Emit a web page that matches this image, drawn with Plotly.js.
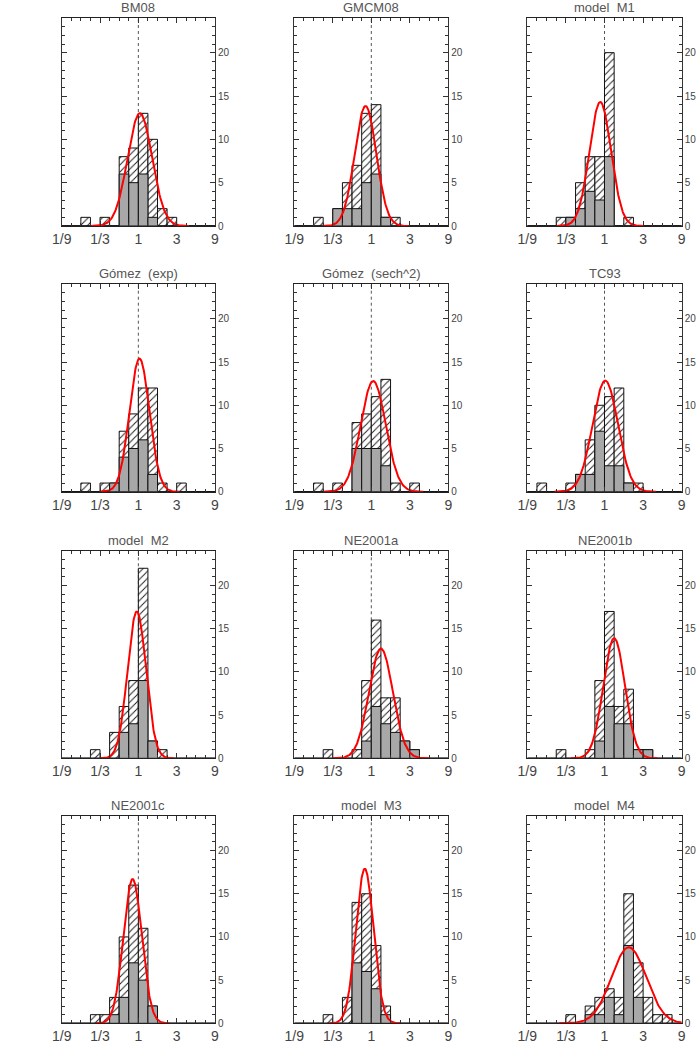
<!DOCTYPE html>
<html>
<head>
<meta charset="utf-8">
<script src="https://cdn.plot.ly/plotly-3.0.1.min.js"></script>
<style>html,body{margin:0;padding:0;background:#fff;}#plot{width:700px;height:1063px;}</style>
</head>
<body>
<div id="plot"></div>
<script>
// bin centres in log3 units (bins 0.25 wide from -2 to 2)
const binCenters = [-1.875,-1.625,-1.375,-1.125,-0.875,-0.625,-0.375,-0.125,0.125,0.375,0.625,0.875,1.125,1.375,1.625,1.875];
const tickVals = [-2,-1,0,1,2];
const tickLabels = ["1/9","1/3","1","3","9"];

const panelTitles = ["BM08","GMCM08","model  M1","Gómez  (exp)","Gómez  (sech^2)","TC93","model  M2","NE2001a","NE2001b","NE2001c","model  M3","model  M4"];

// hatched (all) and grey (subset) counts per panel
const allBM08     = [0,0,1,0,1,0,8,9,13,10,2,1,0,0,0,0];
const subBM08     = [0,0,0,0,0,0,6,5,6,1,0,0,0,0,0,0];
const allGMCM08   = [0,0,1,0,2,5,7,13,14,1,1,0,0,0,0,0];
const subGMCM08   = [0,0,0,0,2,2,2,5,6,1,0,0,0,0,0,0];
const allM1       = [0,0,0,1,1,5,8,8,20,0,1,0,0,0,0,0];
const subM1       = [0,0,0,0,1,2,4,3,8,0,0,0,0,0,0,0];
const allGomezExp = [0,0,1,0,1,1,7,9,12,12,1,0,1,0,0,0];
const subGomezExp = [0,0,0,0,0,1,4,5,6,2,0,0,0,0,0,0];
const allGomezSech= [0,0,1,0,1,0,8,9,11,13,1,0,1,0,0,0];
const subGomezSech= [0,0,0,0,0,0,5,5,5,3,0,0,0,0,0,0];
const allTC93     = [0,1,0,0,1,2,6,10,11,12,1,1,0,0,0,0];
const subTC93     = [0,0,0,0,0,2,2,7,3,3,1,0,0,0,0,0];
const allM2       = [0,0,0,1,0,3,6,9,22,2,1,0,0,0,0,0];
const subM2       = [0,0,0,0,0,0,3,4,9,2,0,0,0,0,0,0];
const allNE2001a  = [0,0,0,1,0,0,1,9,16,7,7,2,1,0,0,0];
const subNE2001a  = [0,0,0,0,0,0,0,2,6,4,3,2,1,0,0,0];
const allNE2001b  = [0,0,0,1,0,0,1,9,17,6,8,1,1,0,0,0];
const subNE2001b  = [0,0,0,0,0,0,0,2,6,4,4,1,1,0,0,0];
const allNE2001c  = [0,0,0,1,1,3,10,16,11,2,0,0,0,0,0,0];
const subNE2001c  = [0,0,0,0,0,1,3,7,5,2,0,0,0,0,0,0];
const allM3       = [0,0,0,1,0,3,14,15,9,2,0,0,0,0,0,0];
const subM3       = [0,0,0,0,0,0,7,6,4,1,0,0,0,0,0,0];
const allM4       = [0,0,0,0,1,0,2,3,4,3,15,7,3,1,1,0];
const subM4       = [0,0,0,0,0,0,1,1,3,1,9,3,0,0,0,0];

// gaussian fit parameters (peak, centre in log3, width in log3)
const fitPeak   = [13.0,13.85,14.3,15.4,12.8,12.85,17.0,12.7,13.9,16.7,17.9,8.8];
const fitCenter = [0.04,-0.15,-0.11,0.03,0.05,0.02,-0.04,0.25,0.25,-0.15,-0.17,0.63];
const fitWidth  = [0.32,0.28,0.28,0.26,0.325,0.33,0.24,0.31,0.28,0.24,0.23,0.45];

const allCounts = [allBM08,allGMCM08,allM1,allGomezExp,allGomezSech,allTC93,allM2,allNE2001a,allNE2001b,allNE2001c,allM3,allM4];
const subCounts = [subBM08,subGMCM08,subM1,subGomezExp,subGomezSech,subTC93,subM2,subNE2001a,subNE2001b,subNE2001c,subM3,subM4];

const W = 700, H = 1063;
const colPx = [[61.7,215],[294.3,448.3],[527.3,681.7]];
const rowPx = [[18,226],[284.3,491.7],[551,758.3],[816,1023.3]];

const data = [];
const layout = {
  width: W, height: H,
  margin: {l:0,r:0,t:0,b:0},
  paper_bgcolor: '#fff', plot_bgcolor: '#fff',
  showlegend: false,
  barmode: 'overlay',
  font: {family: 'Liberation Sans, Arial, sans-serif', color: '#333'},
  annotations: [], shapes: []
};

for (let k = 0; k < 12; k++) {
  const r = Math.floor(k/3), c = k%3;
  const n = k+1;
  const xa = 'x'+(n===1?'':n), ya = 'y'+(n===1?'':n);
  const xk = 'xaxis'+(n===1?'':n), yk = 'yaxis'+(n===1?'':n);
  layout[xk] = {
    domain: [colPx[c][0]/W, colPx[c][1]/W],
    anchor: ya, range: [-2,2], fixedrange: true,
    tickmode: 'array', tickvals: tickVals, ticktext: tickLabels,
    ticks: 'inside', ticklen: 5, tickcolor: '#333', tickwidth: 1,
    minor: {tickmode: 'linear', tick0: -2, dtick: 0.25, ticks: 'inside', ticklen: 3, tickcolor: '#333'},
    showline: true, linecolor: '#222', linewidth: 1, mirror: 'ticks',
    showgrid: false, zeroline: false,
    tickfont: {size: 14, color: '#444'}
  };
  layout[yk] = {
    domain: [1-rowPx[r][1]/H, 1-rowPx[r][0]/H],
    anchor: xa, range: [0,24], fixedrange: true, side: 'right',
    tickmode: 'linear', tick0: 0, dtick: 5,
    ticks: 'inside', ticklen: 5, tickcolor: '#333', tickwidth: 1,
    minor: {tickmode: 'linear', tick0: 0, dtick: 1, ticks: 'inside', ticklen: 3, tickcolor: '#333'},
    showline: true, linecolor: '#333', linewidth: 1, mirror: 'ticks',
    showgrid: false, zeroline: false,
    tickfont: {size: 10, color: '#444'}
  };
  // dotted line at ratio 1
  layout.shapes.push({type:'line', xref: xa, yref: ya+' domain', x0:0, x1:0, y0:0, y1:1,
    line:{color:'#555', width:1, dash:'dot'}, layer:'below'});
  layout.annotations.push({text: panelTitles[k], xref: xa+' domain', yref: ya+' domain',
    x: 0.5, y: 1, xanchor: 'center', yanchor: 'bottom', yshift: 1, showarrow: false,
    font: {size: 13, color: '#555'}});

  data.push({type:'bar', x: binCenters, y: allCounts[k], width: 0.25, xaxis: xa, yaxis: ya,
    opacity: 1,
    marker: {color:'white', opacity: 1, line:{color:'#111', width:1},
      pattern:{shape:'/', fgcolor:'#222', bgcolor:'white', size:5, solidity:0.2}},
    hoverinfo:'skip'});
  data.push({type:'bar', x: binCenters, y: subCounts[k], width: 0.25, xaxis: xa, yaxis: ya,
    opacity: 1,
    marker: {color:'#a8a8a8', opacity: 1, line:{color:'#111', width:1}}, hoverinfo:'skip'});

  // fitted gaussian curve
  const mu = fitCenter[k], s = fitWidth[k], A = fitPeak[k];
  const lo = Math.max(-2, mu-4*s), hi = Math.min(2, mu+4*s);
  const cx = [], cy = [];
  for (let i = 0; i <= 150; i++) {
    const x = lo + (hi-lo)*i/150;
    cx.push(x); cy.push(A*Math.exp(-0.5*Math.pow((x-mu)/s,2)));
  }
  data.push({type:'scatter', mode:'lines', x: cx, y: cy, xaxis: xa, yaxis: ya,
    line:{color:'#ff0000', width:2}, hoverinfo:'skip', cliponaxis: true});
}

Plotly.newPlot('plot', data, layout, {staticPlot: true});
</script>
</body>
</html>
